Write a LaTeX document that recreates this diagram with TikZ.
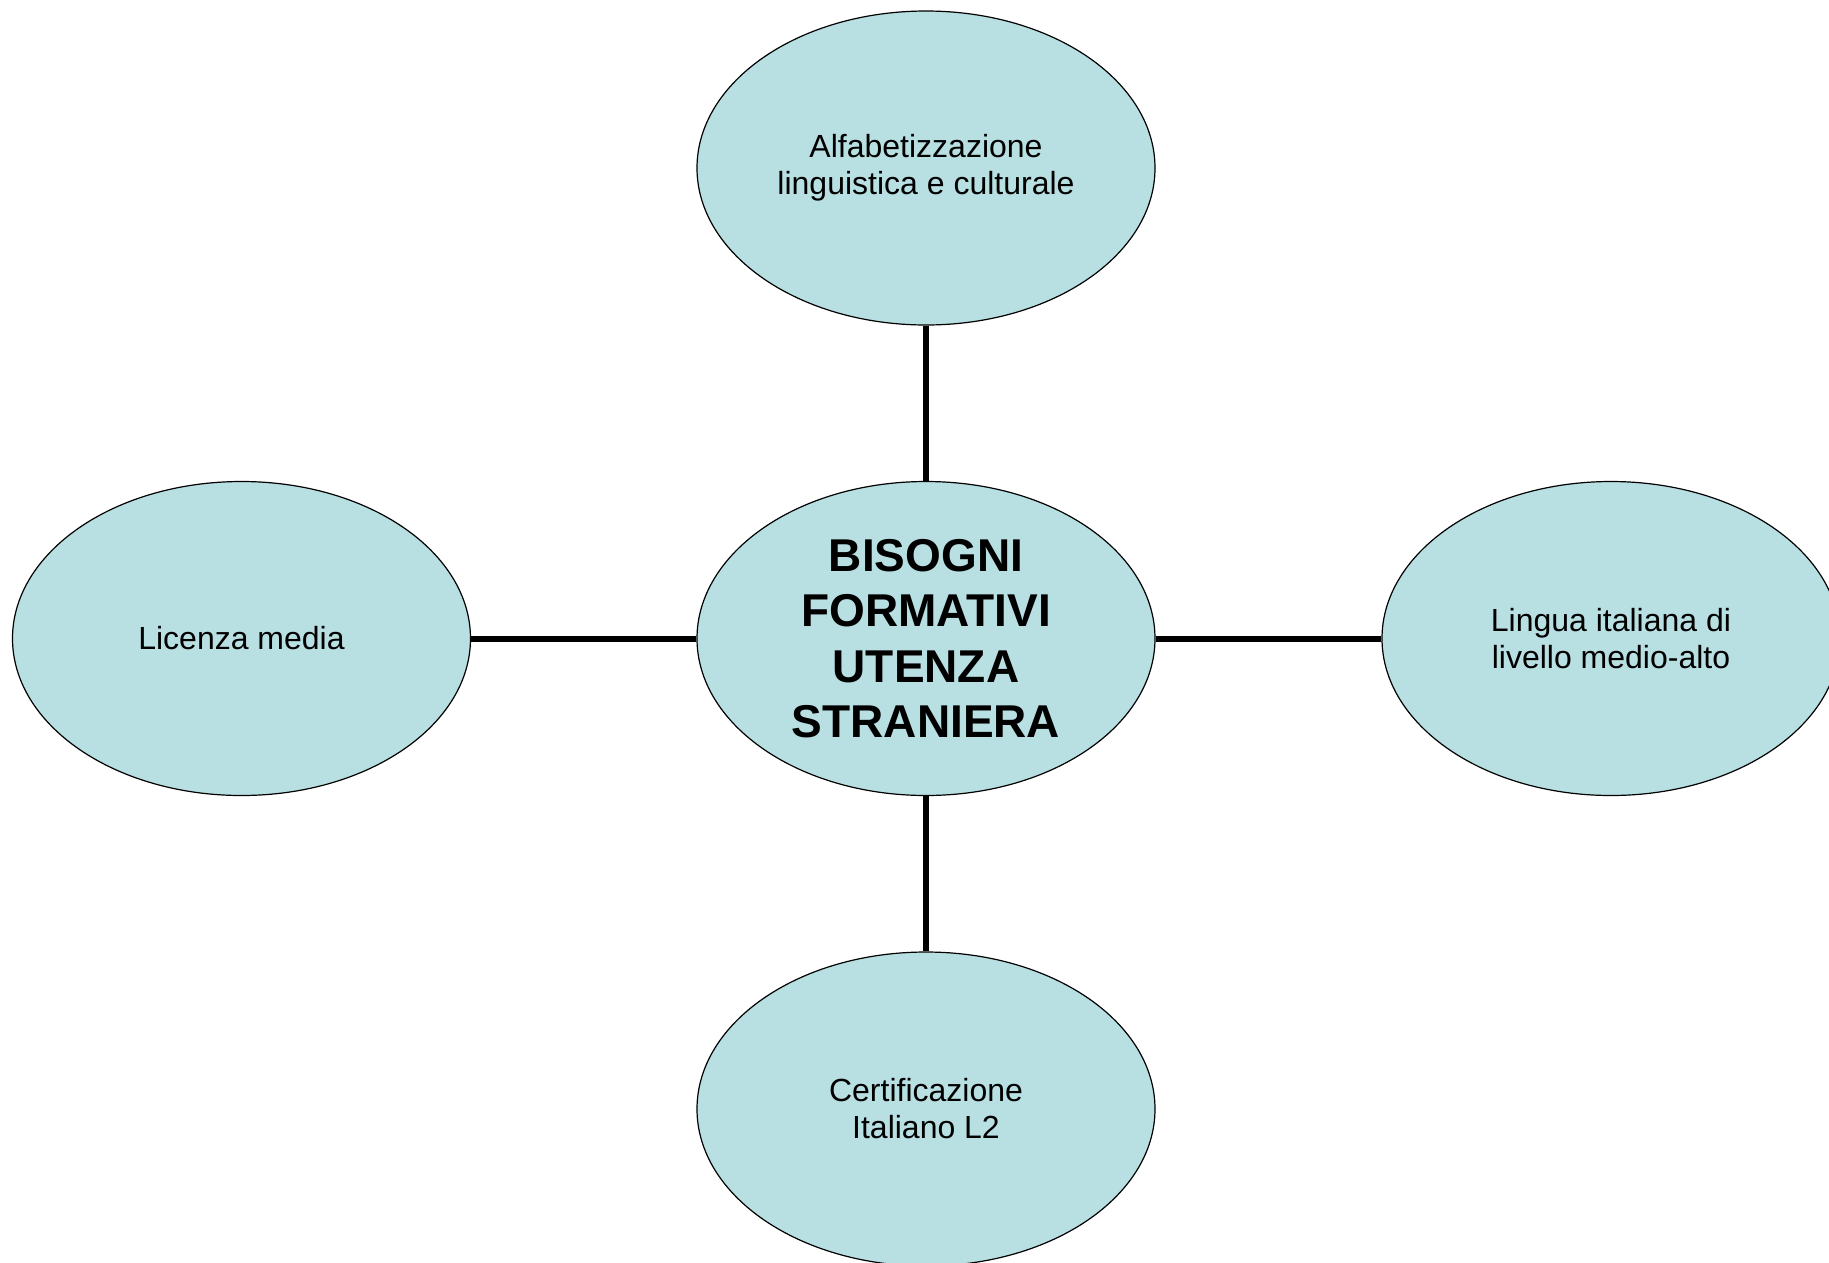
\documentclass[tikz,border=0pt]{standalone}
\usepackage{fontspec}
\setmainfont{Liberation Sans}
\usetikzlibrary{shapes.geometric}
\definecolor{bubble}{RGB}{184,223,226}
\tikzset{
  bub/.style={ellipse, draw=black, line width=1.2pt, fill=bubble, minimum width=458pt, minimum height=314pt, inner sep=0pt, align=center, font=\fontsize{32pt}{37pt}\selectfont},
  hub/.style={bub, font=\bfseries\fontsize{46pt}{55.5pt}\selectfont},
  link/.style={line width=6pt, draw=black}
}
\begin{document}
\begin{tikzpicture}[x=1pt, y=-1pt]
\useasboundingbox (0,0) rectangle (1829,1262);
\fill[white] (0,0) rectangle (1829,1262);
\clip (0,0) rectangle (1829,1262);
\node[hub] (c) at (926,638.5) {BISOGNI\\FORMATIVI\\UTENZA\\STRANIERA};
\node[bub] (t) at (926,168) {Alfabetizzazione\\linguistica e culturale};
\node[bub] (l) at (241.5,638.5) {Licenza media};
\node[bub] (r) at (1611,638.5) {Lingua italiana di\\livello medio-alto};
\node[bub] (b) at (926,1109) {Certificazione\\Italiano L2};
\draw[link] (t) -- (c);
\draw[link] (l) -- (c);
\draw[link] (c) -- (r);
\draw[link] (c) -- (b);
\end{tikzpicture}
\end{document}
